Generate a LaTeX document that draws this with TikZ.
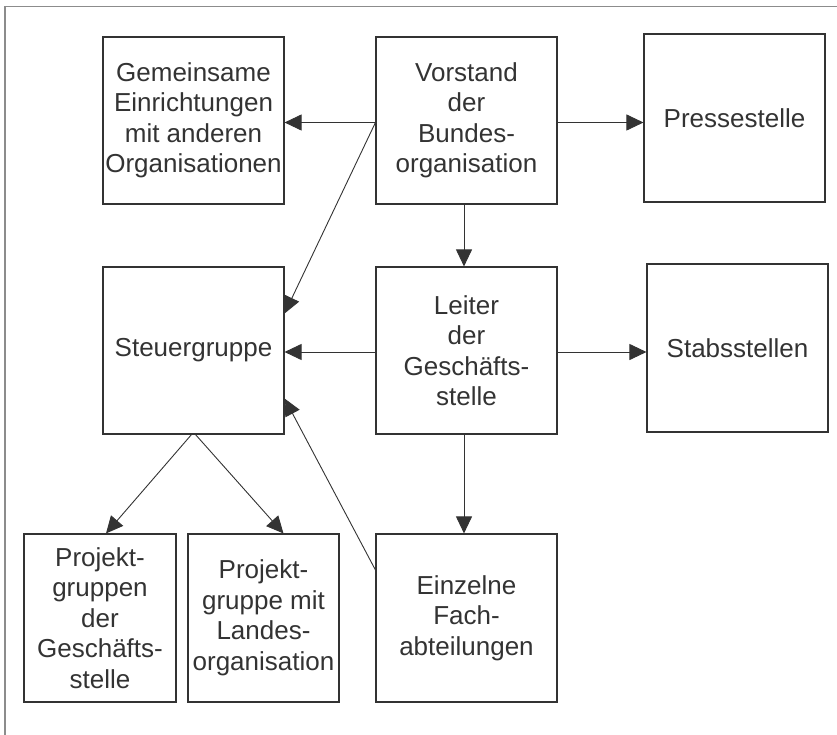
\documentclass[tikz,border=0pt]{standalone}
\usepackage{fontspec}
\setmainfont{Liberation Sans}
\usetikzlibrary{arrows.meta,calc}
\begin{document}
\begin{tikzpicture}[x=1pt,y=-1pt,
  box/.style={draw=black!80,line width=1.1pt,rectangle,inner sep=0pt,align=center,
    font=\fontsize{26}{30.5}\selectfont,text=black!80},
  arr/.style={draw=black!80,line width=0.9pt,-{Triangle[length=17pt,width=16pt]}},
  frame/.style={draw=black!45,line width=1.5pt}]
\useasboundingbox (0,0) rectangle (837,735);
\draw[frame] (5,735) -- (5,6.5) -- (837,6.5);
% top row
\node[box,minimum width=181pt,minimum height=167pt] (g) at (193.5,120.5) {Gemeinsame\\Einrichtungen\\mit anderen\\Organisationen};
\node[box,minimum width=181pt,minimum height=167pt] (v) at (466.5,120.5) {Vorstand\\der\\Bundes-\\organisation};
\node[box,minimum width=181pt,minimum height=168pt] (p) at (734.5,118) {\raisebox{-3pt}{Pressestelle}};
% middle row
\node[box,minimum width=181pt,minimum height=167pt] (s) at (193.5,350.5) {Steuergruppe};
\node[box,minimum width=181pt,minimum height=167pt] (l) at (466.5,350.5) {Leiter\\der\\Geschäfts-\\stelle};
\node[box,minimum width=181pt,minimum height=168pt] (st) at (737.5,348) {\raisebox{-2pt}{Stabsstellen}};
% bottom row
\node[box,minimum width=152pt,minimum height=168pt] (pg) at (100,618) {Projekt-\\gruppen\\der\\Geschäfts-\\stelle};
\node[box,minimum width=151pt,minimum height=168pt] (pm) at (263.5,618) {Projekt-\\gruppe mit\\Landes-\\organisation};
\node[box,minimum width=181pt,minimum height=168pt] (e) at (466.5,618) {Einzelne\\Fach-\\abteilungen};
% connectors
\draw[arr] ([yshift=-2pt]v.west) -- ([yshift=-2pt]g.east);
\draw[arr] ([yshift=-2pt]v.east) -- ([yshift=-2pt]v.east -| p.west);
\draw[arr] ([yshift=-2pt]v.west) -- ([yshift=37pt]s.east);
\draw[arr] ([xshift=-2.5pt]v.south) -- ([xshift=-2.5pt]l.north);
\draw[arr] ([yshift=-1.5pt]l.west) -- ([yshift=-1.5pt]s.east);
\draw[arr] ([yshift=-1.5pt]l.east) -- ([yshift=-1.5pt]l.east -| st.west);
\draw[arr] ([xshift=-2.5pt]l.south) -- ([xshift=-2.5pt]e.north);
\draw[arr] ([yshift=48pt]e.west) -- ([yshift=-48pt]s.east);
\draw[arr] ([xshift=-2pt]s.south) -- ([xshift=6pt]pg.north);
\draw[arr] ([xshift=2pt]s.south) -- ([xshift=20pt]pm.north);
\end{tikzpicture}
\end{document}
